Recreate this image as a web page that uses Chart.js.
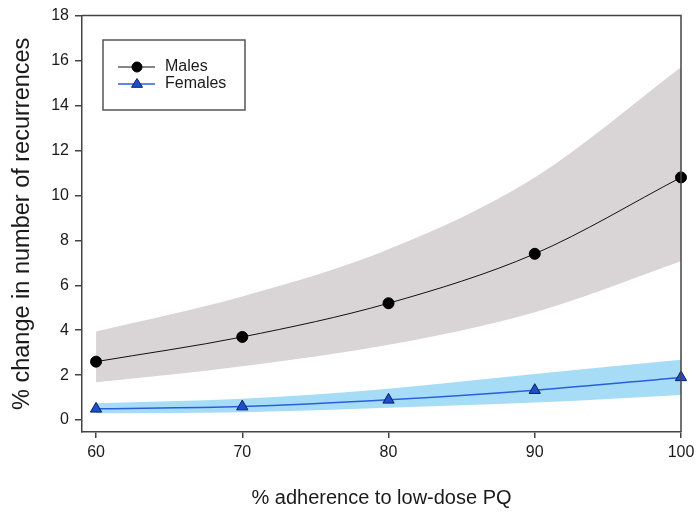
<!DOCTYPE html>
<html>
<head>
<meta charset="utf-8">
<script src="https://cdn.jsdelivr.net/npm/chart.js@4/dist/chart.umd.min.js"></script>
<style>
  html, body { margin: 0; padding: 0; background: #fff; }
  #wrap { width: 700px; height: 513px; }
</style>
</head>
<body>
<div id="wrap"><canvas id="chart" width="700" height="513"></canvas></div>
<script>
// adherence levels (%)
const adherence = [60, 70, 80, 90, 100];
// % change in number of recurrences
const males = [2.6, 3.7, 5.2, 7.4, 10.8];
const malesLower = [1.68, 2.4, 3.35, 4.8, 7.07];
const malesUpper = [3.94, 5.5, 7.6, 10.8, 15.7];
const females = [0.5, 0.6, 0.9, 1.33, 1.9];
const femalesLower = [0.3, 0.35, 0.55, 0.78, 1.12];
const femalesUpper = [0.75, 0.95, 1.4, 2.05, 2.68];
const xTicks = [60, 70, 80, 90, 100];
const yTicks = [0, 2, 4, 6, 8, 10, 12, 14, 16, 18];

const FONT = "'Liberation Sans', Arial, sans-serif";
const AXIS = '#444';

const pts = arr => arr.map((v, i) => ({ x: adherence[i], y: v }));

// top + right frame, and the boxed legend
const framePlugin = {
  id: 'frame',
  afterDraw(chart) {
    const { ctx, chartArea: a } = chart;
    ctx.save();
    ctx.strokeStyle = AXIS;
    ctx.lineWidth = 1.5;
    ctx.beginPath();
    ctx.moveTo(a.left, a.top);
    ctx.lineTo(a.right, a.top);
    ctx.lineTo(a.right, a.bottom);
    ctx.stroke();

    // legend
    ctx.strokeStyle = '#555';
    ctx.strokeRect(103, 40, 142, 70);
    const items = [chart.data.datasets[0], chart.data.datasets[1]];
    items.forEach((ds, i) => {
      const y = 67 + i * 17;
      ctx.strokeStyle = ds.borderColor;
      ctx.lineWidth = ds.borderWidth;
      ctx.beginPath(); ctx.moveTo(118, y); ctx.lineTo(155, y); ctx.stroke();
      ctx.fillStyle = ds.pointBackgroundColor;
      ctx.strokeStyle = ds.pointBorderColor;
      ctx.lineWidth = 1;
      ctx.beginPath();
      if (ds.pointStyle === 'triangle') {
        const r = 5.5;
        ctx.moveTo(137, y - r);
        ctx.lineTo(137 + r, y + r * 0.6);
        ctx.lineTo(137 - r, y + r * 0.6);
        ctx.closePath();
      } else {
        ctx.arc(137, y, 5, 0, Math.PI * 2);
      }
      ctx.fill(); ctx.stroke();
      ctx.fillStyle = '#1a1a1a';
      ctx.font = '16px ' + FONT;
      ctx.textBaseline = 'middle';
      ctx.fillText(ds.label, 165, y);
    });
    ctx.restore();
  }
};

new Chart(document.getElementById('chart'), {
  type: 'line',
  data: {
    datasets: [
      { label: 'Males', data: pts(males), borderColor: '#111', borderWidth: 1, clip: false,
        pointStyle: 'circle', pointRadius: 5.5, pointBackgroundColor: '#000', pointBorderColor: '#000',
        cubicInterpolationMode: 'monotone', fill: false },
      { label: 'Females', data: pts(females), borderColor: '#2a5fdc', borderWidth: 1.5, clip: false,
        pointStyle: 'triangle', pointRadius: 6.5, pointBackgroundColor: '#1c4fcf', pointBorderColor: '#0f1f5c',
        pointBorderWidth: 1, cubicInterpolationMode: 'monotone', fill: false },
      { label: 'mL', data: pts(malesLower), borderWidth: 0, pointRadius: 0, cubicInterpolationMode: 'monotone', fill: false },
      { label: 'mU', data: pts(malesUpper), borderWidth: 0, pointRadius: 0, cubicInterpolationMode: 'monotone',
        fill: { target: 2 }, backgroundColor: '#d9d4d5' },
      { label: 'fL', data: pts(femalesLower), borderWidth: 0, pointRadius: 0, cubicInterpolationMode: 'monotone', fill: false },
      { label: 'fU', data: pts(femalesUpper), borderWidth: 0, pointRadius: 0, cubicInterpolationMode: 'monotone',
        fill: { target: 4 }, backgroundColor: '#a6dcf6' }
    ]
  },
  options: {
    responsive: false,
    animation: false,
    layout: { padding: { top: 13, right: 19, left: 0, bottom: 0 } },
    plugins: {
      legend: { display: false },
      tooltip: { enabled: false },
      filler: { drawTime: 'beforeDatasetsDraw' }
    },
    scales: {
      x: {
        type: 'linear', min: 59.04, max: 100,
        afterBuildTicks: s => { s.ticks = xTicks.map(v => ({ value: v })); },
        afterFit: s => { s.height = 81; },
        grid: { drawOnChartArea: false, drawTicks: true, tickLength: 6, color: AXIS, lineWidth: 1.5 },
        border: { color: AXIS, width: 1.5 },
        ticks: { color: '#1a1a1a', font: { family: FONT, size: 16 }, padding: 5, maxRotation: 0 },
        title: { display: true, text: '% adherence to low-dose PQ', color: '#1a1a1a',
          font: { family: FONT, size: 20 }, padding: { top: 0, bottom: 3 } }
      },
      y: {
        min: -0.53, max: 18,
        afterBuildTicks: s => { s.ticks = yTicks.map(v => ({ value: v })); },
        afterFit: s => { s.width = 82; },
        grid: { drawOnChartArea: false, drawTicks: true, tickLength: 7, color: AXIS, lineWidth: 1.5 },
        border: { color: AXIS, width: 1.5 },
        ticks: { color: '#1a1a1a', font: { family: FONT, size: 16 }, padding: 6 },
        title: { display: true, text: '% change in number of recurrences', color: '#1a1a1a',
          font: { family: FONT, size: 23.5 }, padding: { top: 8, bottom: 0 } }
      }
    }
  },
  plugins: [framePlugin]
});
</script>
</body>
</html>
